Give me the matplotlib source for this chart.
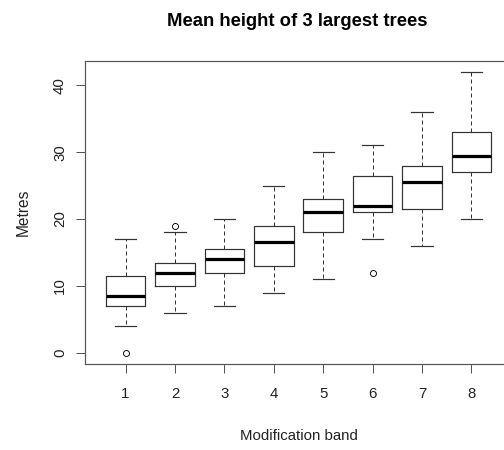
import matplotlib
matplotlib.use("Agg")
import matplotlib.pyplot as plt

plt.rcParams['font.family'] = ['Liberation Sans', 'DejaVu Sans']

# Modification bands and five-number summaries
bands = [1, 2, 3, 4, 5, 6, 7, 8]
whisker_low = [4, 6, 7, 9, 11, 17, 16, 20]
q1 = [7, 10, 12, 13, 18, 21, 21.5, 27]
median = [8.5, 12, 14, 16.5, 21, 22, 25.5, 29.5]
q3 = [11.5, 13.5, 15.5, 19, 23, 26.5, 28, 33]
whisker_high = [17, 18, 20, 25, 30, 31, 36, 42]
outliers = [[0], [19], [], [], [], [12], [], []]

stats = []
for i, b in enumerate(bands):
    stats.append({
        'label': str(b),
        'whislo': whisker_low[i],
        'q1': q1[i],
        'med': median[i],
        'q3': q3[i],
        'whishi': whisker_high[i],
        'fliers': outliers[i],
    })

fig = plt.figure(figsize=(7, 6.25), dpi=72)
ax = fig.add_axes([0.1687, 0.1911, 0.847, 0.674])

edge = '#333333'
ax.bxp(stats, positions=bands, widths=0.8, showfliers=True,
       boxprops=dict(color=edge, linewidth=1.2),
       medianprops=dict(color='black', linewidth=3.2, solid_capstyle='butt'),
       whiskerprops=dict(color=edge, linewidth=1.0, linestyle=(0, (4, 3))),
       capprops=dict(color=edge, linewidth=1.2),
       flierprops=dict(marker='o', markerfacecolor='none', markeredgecolor='black',
                       markersize=6, markeredgewidth=0.9),
       capwidths=0.43)

ax.set_xlim(0.18, 8.82)
ax.set_ylim(-1.68, 43.68)
ax.set_xticks(bands)
ax.set_xticklabels([str(b) for b in bands])
ax.set_yticks([0, 10, 20, 30, 40])
ax.set_yticklabels(['0', '10', '20', '30', '40'], rotation=90, va='center')

for s in ax.spines.values():
    s.set_color('#555555')
    s.set_linewidth(1.2)
ax.tick_params(axis='both', length=9, width=1, color='#555555', labelsize=15,
               labelcolor='#222222')
ax.tick_params(axis='x', pad=14)
ax.tick_params(axis='y', pad=9)

ax.set_xlabel('Modification band', fontsize=15, color='#222222', labelpad=28)
ax.set_ylabel('Metres', fontsize=15.5, color='#222222', labelpad=22)
fig.text(0.59, 0.952, 'Mean height of 3 largest trees', ha='center', va='center',
         fontsize=18.5, fontweight='bold', color='black')

fig.savefig('out.png', dpi=72)
